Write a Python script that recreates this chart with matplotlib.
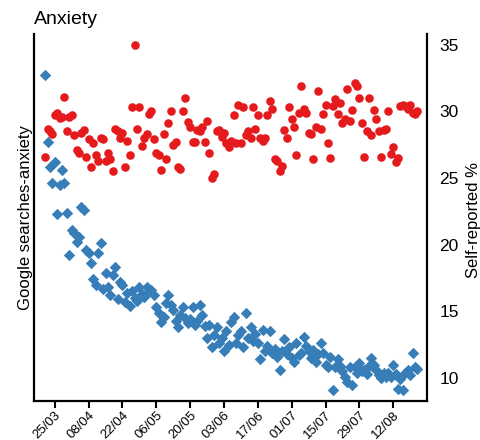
import numpy as np
import pandas as pd
import matplotlib
matplotlib.use('Agg')
import matplotlib.pyplot as plt
import matplotlib.dates as mdates

plt.rcParams['font.family'] = ['Liberation Sans', 'DejaVu Sans']

# daily values, 21 March to 22 August 2020
start = '2020-03-21'

google = [32.7, 27.7, 25.8, 24.6, 26.2, 22.3, 24.5, 25.6, 24.6, 22.4,
          19.2, 21.1, 20.9, 20.2, 20.6, 22.8, 22.6, 19.6, 19.4, 18.6,
          17.4, 17.0, 19.4, 20.1, 16.7, 17.9, 16.8, 16.2, 17.7, 18.3,
          15.9, 17.2, 17.0, 15.7, 16.4, 15.4, 16.5, 16.0, 15.8, 16.8,
          16.3, 16.1, 16.8, 16.5, 16.6, 16.2, 15.3, 14.9, 14.2, 14.6,
          15.6, 16.2, 15.5, 15.1, 14.3, 13.8, 14.7, 15.3, 14.5, 14.1,
          14.4, 15.3, 14.0, 14.3, 15.5, 14.7, 13.9, 13.0, 14.0, 12.3,
          13.2, 13.8, 12.6, 13.0, 12.0, 13.5, 12.5, 14.2, 14.6, 12.6,
          13.2, 13.5, 12.3, 14.9, 13.0, 13.8, 12.8, 13.3, 12.6, 11.4,
          13.6, 12.0, 12.4, 13.5, 11.9, 12.2, 11.6, 10.6, 12.0, 12.9,
          11.8, 12.3, 11.5, 11.2, 12.6, 11.7, 11.9, 13.1, 12.4, 12.0,
          11.5, 12.1, 11.2, 11.8, 12.6, 11.9, 11.0, 10.8, 11.6, 9.1,
          10.8, 11.4, 10.9, 10.5, 10.1, 9.7, 10.8, 9.5, 10.8, 10.4,
          11.1, 10.5, 10.6, 10.3, 10.9, 11.5, 11.0, 10.6, 10.2, 10.0,
          10.4, 10.1, 10.4, 10.1, 11.0, 10.3, 9.2, 9.9, 9.1, 10.4,
          10.6, 10.2, 11.9, 10.8, 10.7]

self_reported = [26.6, 28.7, 28.5, 28.3, 29.7, 29.9, 29.5, 29.6, 31.1, 28.5,
                 29.6, 29.7, 28.2, 27.1, 26.9, 28.4, 28.6, 26.6, 27.9, 25.8,
                 27.6, 26.7, 26.3, 28.0, 27.9, 26.3, 26.9, 26.4, 25.5, 28.7,
                 28.5, 28.0, 28.4, 25.8, 27.8, 26.7, 30.3, 35.0, 28.7, 30.3,
                 27.4, 28.0, 28.3, 29.8, 30.0, 27.9, 26.9, 26.7, 25.6, 28.3,
                 26.4, 29.1, 30.0, 27.5, 27.7, 25.8, 25.7, 30.0, 31.0, 29.2,
                 28.8, 27.7, 27.7, 28.6, 28.5, 28.8, 27.7, 29.3, 26.9, 25.0,
                 25.3, 28.5, 28.6, 28.1, 28.4, 27.6, 27.3, 27.8, 29.7, 27.6,
                 30.5, 27.6, 30.3, 28.2, 28.5, 28.0, 30.3, 28.7, 29.7, 28.0,
                 27.8, 28.0, 29.7, 30.8, 30.2, 26.4, 26.3, 25.5, 25.9, 28.6,
                 28.0, 30.3, 29.4, 28.8, 26.7, 29.9, 31.9, 30.2, 29.9, 28.4,
                 28.3, 26.4, 28.8, 31.5, 28.7, 29.8, 30.5, 27.6, 26.5, 30.4,
                 30.9, 29.8, 30.6, 29.1, 29.4, 31.7, 29.3, 30.1, 32.1, 31.9,
                 31.0, 29.1, 26.6, 28.5, 31.0, 28.2, 30.1, 29.4, 28.5, 26.6,
                 28.6, 28.7, 30.0, 26.8, 27.3, 26.2, 26.5, 30.4, 30.5, 30.4,
                 30.2, 30.5, 29.9, 29.8, 30.0]

dates = pd.date_range(start, periods=len(google), freq='D')

fig = plt.figure(figsize=(4.81, 4.40), dpi=100)
ax = fig.add_axes([0.0707, 0.0886, 0.8171, 0.8341])

ax.scatter(dates, self_reported, marker='o', s=38, color='#e41a1c', linewidths=0, zorder=3)
ax.scatter(dates, google, marker='D', s=34, color='#377eb8', linewidths=0, zorder=3)

ax.set_xlim(pd.Timestamp('2020-03-16 10:00'), pd.Timestamp('2020-08-26'))
ax.set_ylim(8.27, 35.8)

ticks = pd.date_range('2020-03-25', '2020-08-12', freq='14D')
ax.set_xticks(ticks)
ax.xaxis.set_major_formatter(mdates.DateFormatter('%d/%m'))
plt.setp(ax.get_xticklabels(), rotation=45, ha='right', rotation_mode='anchor', fontsize=9.5)
ax.tick_params(axis='x', length=5, width=1.5, pad=1)

ax.yaxis.tick_right()
ax.set_yticks([10, 15, 20, 25, 30, 35])
ax.tick_params(axis='y', length=0, pad=9, labelsize=12.5)

ax.spines['top'].set_visible(False)
for s in ['left', 'right', 'bottom']:
    ax.spines[s].set_linewidth(1.6)

ax.set_ylabel('Google searches-anxiety', fontsize=12)
ax.yaxis.set_label_position('left')
ax.yaxis.labelpad = 1
fig.text(0.984, 0.5, 'Self-reported %', rotation=90, fontsize=12, va='center', ha='center')

ax.set_title('Anxiety', loc='left', fontsize=14, pad=7)

fig.savefig('out.png', dpi=100)
